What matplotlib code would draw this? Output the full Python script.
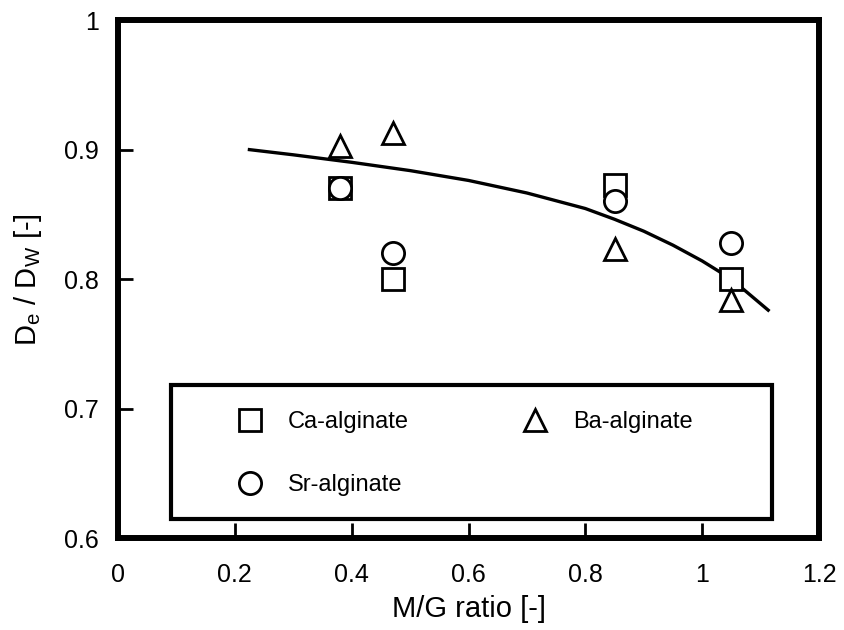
import matplotlib.pyplot as plt
from matplotlib.patches import Rectangle

plt.rcParams['font.family'] = ['Liberation Sans', 'DejaVu Sans']
plt.rcParams['mathtext.fontset'] = 'custom'
plt.rcParams['mathtext.rm'] = 'Liberation Sans'
plt.rcParams['mathtext.it'] = 'Liberation Sans'

# M/G ratio of each alginate sample
mg_ratio = [0.38, 0.47, 0.85, 1.05]
ca_alginate = [0.870, 0.800, 0.873, 0.800]
ba_alginate = [0.903, 0.913, 0.823, 0.784]
sr_alginate = [0.870, 0.820, 0.860, 0.828]

# trend curve
curve_x = [0.225, 0.3, 0.4, 0.5, 0.6, 0.7, 0.8, 0.85, 0.9, 0.95, 1.0, 1.05, 1.113]
curve_y = [0.900, 0.896, 0.8902, 0.8838, 0.8762, 0.8665, 0.8545, 0.8462,
           0.837, 0.8262, 0.814, 0.800, 0.776]

fig = plt.figure(figsize=(8.44, 6.30), dpi=100)
ax = fig.add_axes([0.1398, 0.146, 0.8306, 0.822])

mk = dict(linestyle='none', markersize=16, markerfacecolor='white',
          markeredgecolor='black', markeredgewidth=2.0)
ax.plot(curve_x, curve_y, color='black', lw=2.4, zorder=2)
h_ca, = ax.plot(mg_ratio, ca_alginate, marker='s', label='Ca-alginate', zorder=3, **mk)
h_sr, = ax.plot(mg_ratio, sr_alginate, marker='o', label='Sr-alginate', zorder=3, **mk)
h_ba, = ax.plot(mg_ratio, ba_alginate, marker='^', label='Ba-alginate', zorder=3, **mk)

ax.set_xlim(0, 1.2)
ax.set_ylim(0.6, 1.0)
ax.set_xticks([0, 0.2, 0.4, 0.6, 0.8, 1, 1.2])
ax.set_xticklabels(['0', '0.2', '0.4', '0.6', '0.8', '1', '1.2'])
ax.set_yticks([0.6, 0.7, 0.8, 0.9, 1.0])
ax.set_yticklabels(['0.6', '0.7', '0.8', '0.9', '1'])
ax.tick_params(direction='in', length=11, width=2.0, labelsize=18,
               top=False, right=False)
ax.tick_params(axis='x', pad=18)
ax.tick_params(axis='y', pad=14)

for s in ax.spines.values():
    s.set_linewidth(4.3)

ax.set_xlabel('M/G ratio [-]', fontsize=21, labelpad=6)
ax.set_ylabel(r'D$_\mathregular{e}$ / D$_\mathregular{W}$ [-]', fontsize=21, labelpad=14)

# legend box
ax.add_patch(Rectangle((0.0902, 0.6149), 1.1195 - 0.0902, 0.7184 - 0.6149,
                       transform=ax.transData, fill=False, edgecolor='black',
                       lw=3.0, zorder=4))
leg = ax.legend(handles=[h_ca, h_sr, h_ba], ncol=2, loc='upper left',
                bbox_to_anchor=(0.202, 0.698), bbox_transform=ax.transData,
                fontsize=17, frameon=False, borderpad=0, borderaxespad=0,
                labelspacing=1.75, handletextpad=1.0, columnspacing=4.75,
                handlelength=1.2)

fig.savefig('out.png', dpi=100)
